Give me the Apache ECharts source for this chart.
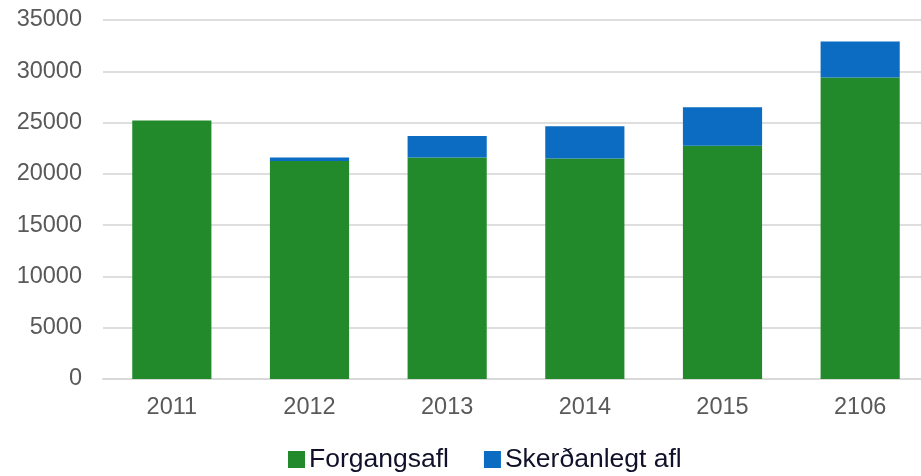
<!DOCTYPE html>
<html>
<head>
<meta charset="utf-8">
<script src="https://cdn.jsdelivr.net/npm/echarts@6/dist/echarts.min.js"></script>
<style>
  html, body { margin: 0; padding: 0; background: #fff; }
  #chart { width: 921px; height: 476px; }
</style>
</head>
<body>
<div id="chart"></div>
<script>
const years = ['2011', '2012', '2013', '2014', '2015', '2106']
const forgangsafl = [25200, 21250, 21600, 21500, 22750, 29400]
const skerdanlegt = [0, 350, 2100, 3150, 3750, 3500]

const chart = echarts.init(document.getElementById('chart'))

chart.setOption({
  animation: false,
  textStyle: { fontFamily: 'Liberation Sans, Arial, sans-serif' },
  grid: { left: 103, right: -8, top: 20, bottom: 97, outerBoundsMode: 'none' },
  legend: {
    left: 288,
    top: 446,
    padding: 0,
    icon: 'rect',
    itemWidth: 17,
    itemHeight: 17,
    itemGap: 35,
    textStyle: { fontSize: 26.5, color: '#10102a', padding: [0, 0, 0, -1] },
    data: ['Forgangsafl', 'Skerðanlegt afl']
  },
  xAxis: {
    type: 'category',
    data: years,
    axisLine: { lineStyle: { color: '#d9d9d9', width: 2 } },
    axisTick: { show: false },
    axisLabel: { fontSize: 23.5, color: '#595959', margin: 17 }
  },
  yAxis: {
    type: 'value',
    min: 0,
    max: 35000,
    interval: 5000,
    axisLabel: {
      fontSize: 23.5,
      color: '#595959',
      margin: 21,
      formatter: (v) => String(v)
    },
    splitLine: { lineStyle: { color: '#dedede', width: 2 } }
  },
  series: [
    {
      name: 'Forgangsafl',
      type: 'bar',
      stack: 'total',
      barCategoryGap: '42.5%',
      itemStyle: { color: '#228a2a' },
      data: forgangsafl
    },
    {
      name: 'Skerðanlegt afl',
      type: 'bar',
      stack: 'total',
      itemStyle: { color: '#0b6cc2' },
      data: skerdanlegt
    }
  ]
})
</script>
</body>
</html>
